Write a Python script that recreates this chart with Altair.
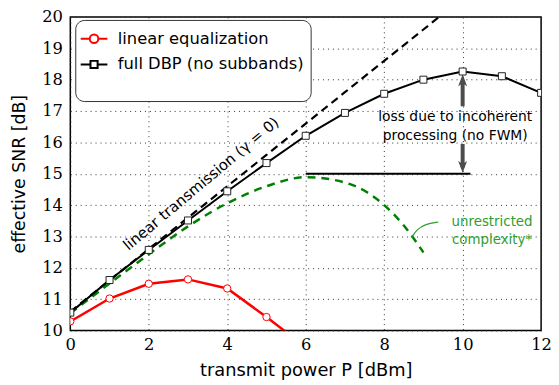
import altair as alt
import pandas as pd

# ---- data ----
power = [0, 1, 2, 3, 4, 5, 6, 7, 8, 9, 10, 11, 12]
lin_eq_x = [0, 1, 2, 3, 4, 5, 6]
lin_eq_y = [10.29, 11.02, 11.49, 11.63, 11.34, 10.43, 9.47]
dbp_y = [10.57, 11.61, 12.57, 13.51, 14.44, 15.34, 16.21, 16.94, 17.55, 18.0, 18.26, 18.11, 17.58]
lintx_x = [0, 1, 2, 3, 4, 5, 6, 7, 8, 9, 10]
lintx_y = [10.6, 11.6, 12.6, 13.6, 14.6, 15.6, 16.6, 17.6, 18.6, 19.6, 20.6]
unres_x = [0, 1, 2, 3, 4, 5, 6, 7, 8, 8.5, 9]
unres_y = [10.55, 11.5, 12.43, 13.32, 14.06, 14.6, 14.89, 14.72, 14.0, 13.35, 12.49]

ref_x = [6, 10.2]
ref_y = [15.0, 15.0]

arrow_x = [10, 10]
arrow_from = [17.15, 15.95]
arrow_to = [17.95, 15.2]
up_tip = [18.17]
down_tip = [15.03]

conn_x = [9.38, 9.05, 8.82, 8.70]
conn_y = [13.46, 13.40, 13.21, 12.96]

series_names = ["linear equalization", "full DBP (no subbands)"]
series_colors = ["#ff0000", "#000000"]

y_ticks = list(range(10, 21))
x_ticks = [0, 2, 4, 6, 8, 10, 12]

SANS = "DejaVu Sans"
SERIF = "DejaVu Serif"

df_lin = pd.DataFrame({"x": lin_eq_x, "y": lin_eq_y})
df_dbp = pd.DataFrame({"x": power, "y": dbp_y})
df_ltx = pd.DataFrame({"x": lintx_x, "y": lintx_y})
df_unr = pd.DataFrame({"x": unres_x, "y": unres_y})
df_ref = pd.DataFrame({"x": ref_x, "y": ref_y})
df_arr = pd.DataFrame({"x": arrow_x, "y1": arrow_from, "y2": arrow_to})
df_up = pd.DataFrame({"x": arrow_x[:1], "y": up_tip})
df_down = pd.DataFrame({"x": arrow_x[1:], "y": down_tip})
df_conn = pd.DataFrame({"x": conn_x, "y": conn_y, "o": list(range(len(conn_x)))})
df_leg = pd.DataFrame({"series": series_names})

xs = alt.Scale(domain=[0, 12], nice=False, zero=False)
ys = alt.Scale(domain=[10, 20], nice=False, zero=False)
AX = alt.Axis(values=x_ticks, title="transmit power P [dBm]", titleY=41, titleBaseline="middle",
              labelFlush=False)
AY = alt.Axis(values=y_ticks, title="effective SNR [dB]", titleX=-51, titleBaseline="middle",
              labelOverlap=False)


def X(f="x"):
    return alt.X(f + ":Q", scale=xs, axis=AX)


def Y(f="y"):
    return alt.Y(f + ":Q", scale=ys, axis=AY)


ltx = alt.Chart(df_ltx).mark_line(color="black", strokeWidth=2.2, strokeDash=[8, 5], clip=True).encode(x=X(), y=Y())
unr = alt.Chart(df_unr).mark_line(color="#008000", strokeWidth=2.5, strokeDash=[8, 6], clip=True,
                                  interpolate="monotone").encode(x=X(), y=Y())
dbp_line = alt.Chart(df_dbp).mark_line(color="black", strokeWidth=2, clip=True).encode(x=X(), y=Y())
dbp_pts = alt.Chart(df_dbp).mark_point(shape="square", size=50, filled=True, fill="white",
                                       stroke="#222", strokeWidth=1, opacity=1, clip=True).encode(x=X(), y=Y())
lin_line = alt.Chart(df_lin).mark_line(color="#ff0000", strokeWidth=2.5, clip=True).encode(x=X(), y=Y())
lin_pts = alt.Chart(df_lin).mark_point(shape="circle", size=55, filled=True, fill="white",
                                       stroke="#ff0000", strokeWidth=1, opacity=1, clip=True).encode(x=X(), y=Y())
ref = alt.Chart(df_ref).mark_line(color="black", strokeWidth=2).encode(x=X(), y=Y())

shaft = alt.Chart(df_arr).mark_rule(color="#4d4d4d", strokeWidth=4).encode(
    x=X(), y=Y("y1"), y2="y2:Q")
head_up = "M0,0 L-0.6,1.6 L0,1.2 L0.6,1.6 Z"
head_down = "M0,0 L-0.6,-1.6 L0,-1.2 L0.6,-1.6 Z"
hu = alt.Chart(df_up).mark_point(shape=head_up, filled=True, size=225, opacity=1, color="#4d4d4d",
                                 strokeWidth=0).encode(x=X(), y=Y())
hd = alt.Chart(df_down).mark_point(shape=head_down, filled=True, size=225, opacity=1, color="#4d4d4d",
                                   strokeWidth=0).encode(x=X(), y=Y())

conn = alt.Chart(df_conn).mark_line(color="#2e9e2e", strokeWidth=1.2, interpolate="basis").encode(
    x=X(), y=Y(), order="o:Q")


def label(text, x, y, color="black", size=14, angle=0, align="center"):
    d = pd.DataFrame({"x": [x], "y": [y], "t": [text]})
    return alt.Chart(d).mark_text(font=SANS, fontSize=size, color=color, angle=angle, align=align,
                                  baseline="middle").encode(x=X(), y=Y(), text="t:N")


txt1 = label("loss due to incoherent", 9.81, 16.81, size=14)
txt2 = label("processing (no FWM)", 9.81, 16.2, size=14)
txt3 = label("unrestricted", 10.75, 13.47, color="#2e9e2e", size=13.5)
txt4 = label("complexity*", 10.75, 12.89, color="#2e9e2e", size=13.5)
txt5 = label("linear transmission (γ = 0)", 3.33, 14.68, size=15, angle=320)

circ = "M-1.125,0 L-0.36,0 M0.36,0 L1.125,0 M0.36,0 A0.36,0.36 0 1 1 -0.36,0 A0.36,0.36 0 1 1 0.36,0 Z"
sq = "M-1.125,0 L-0.3,0 M0.3,0 L1.125,0 M-0.3,-0.3 L0.3,-0.3 L0.3,0.3 L-0.3,0.3 Z"
legend_layer = alt.Chart(df_leg).mark_point(filled=True, fill="white", size=576, opacity=1, clip=True).encode(
    x=alt.value(-200), y=alt.value(-200),
    stroke=alt.Stroke("series:N", scale=alt.Scale(domain=series_names, range=series_colors),
                      legend=alt.Legend(title=" ")),
    shape=alt.Shape("series:N", scale=alt.Scale(domain=series_names, range=[circ, sq]),
                    legend=alt.Legend(title=" ")),
)

chart = alt.layer(ltx, unr, ref, shaft, hu, hd, conn, dbp_line, dbp_pts, lin_line, lin_pts,
                  txt1, txt2, txt3, txt4, txt5, legend_layer).properties(
    width=476, height=317,
    autosize=alt.AutoSizeParams(type="none"),
    padding={"left": 63, "top": 7, "right": 10, "bottom": 50},
).configure_view(stroke="black", strokeWidth=1.5).configure_axis(
    grid=True, gridColor="#333", gridDash=[1, 4], gridWidth=1, gridOpacity=1,
    domain=False, ticks=False,
    labelFont=SERIF, labelFontSize=16.5, labelColor="black",
    titleFont=SANS, titleFontSize=18, titleFontWeight="normal", titleColor="black",
).configure_axisY(labelPadding=8, titleFontSize=17.5).configure_axisX(labelPadding=6).configure_legend(
    orient="none", legendX=5, legendY=3,
    strokeColor="#333", fillColor="white", cornerRadius=9, padding=6,
    labelFont=SANS, labelFontSize=16.5, labelColor="black", labelOffset=11, labelLimit=400,
    symbolStrokeWidth=2, symbolOpacity=1, symbolFillColor="white", symbolSize=576,
    rowPadding=4, titleOrient="bottom", titleFontSize=18, titlePadding=4,
)

chart.save("out.html", embed_options={"renderer": "svg", "actions": False})
